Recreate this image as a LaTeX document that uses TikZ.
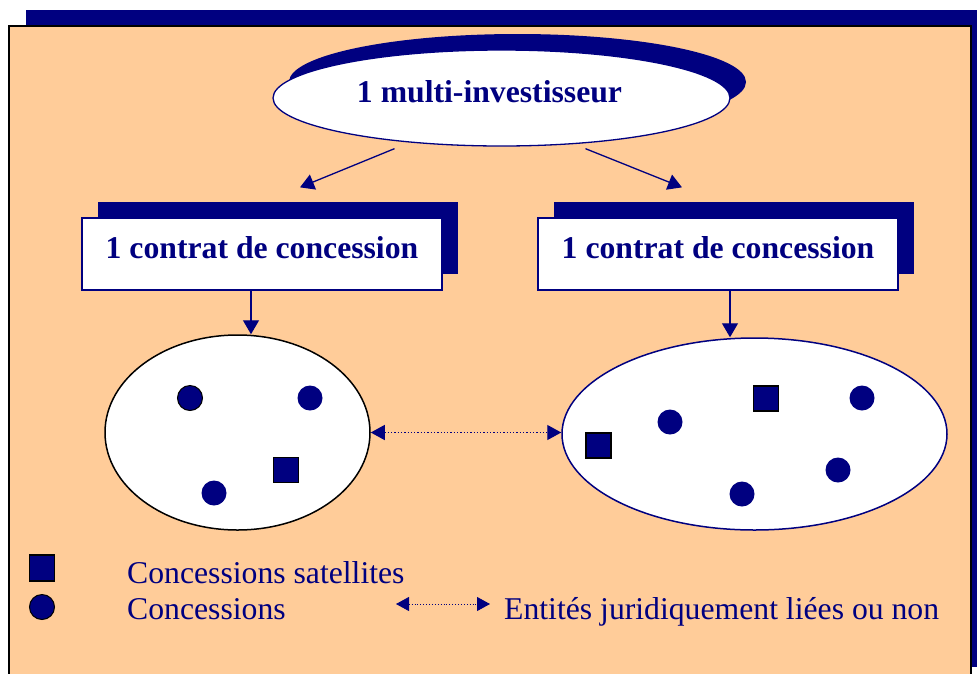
\documentclass[tikz,border=0pt]{standalone}
\usepackage{fontspec}
\setmainfont{Liberation Serif}
\usetikzlibrary{arrows.meta,positioning,shapes.geometric,shadows}
\definecolor{marine}{RGB}{0,0,128}
\definecolor{peche}{RGB}{255,204,153}
\tikzset{
  ombre/.style={drop shadow={shadow xshift=16pt,shadow yshift=16pt,fill=marine,opacity=1}},
  titre/.style={font=\bfseries\fontsize{31.7}{38}\selectfont,text=marine,text height=22pt,text depth=14pt},
  contrat/.style={rectangle,draw=marine,line width=1.3pt,fill=white,minimum width=360pt,minimum height=72pt,inner sep=0pt,ombre,titre},
  groupe/.style={ellipse,line width=1.5pt,fill=white,inner sep=0pt},
  conc/.style={circle,fill=marine,minimum size=25pt,inner sep=0pt},
  concb/.style={conc,draw=black,line width=1pt},
  sat/.style={rectangle,fill=marine,draw=black,line width=1.2pt,minimum size=25pt,inner sep=0pt},
  fleche/.style={-{Triangle[length=14pt,width=16pt]},line width=1.3pt,marine},
  lien/.style={{Triangle[length=14pt,width=15pt]}-{Triangle[length=14pt,width=15pt]},dotted,line width=1.3pt,marine},
  lienleg/.style={{Triangle[length=13pt,width=14pt]}-{Triangle[length=13pt,width=14pt]},dotted,line width=0.9pt,marine},
  legende/.style={font=\fontsize{31.7}{38}\selectfont,text=marine,inner sep=0pt,anchor=base west}
}
\begin{document}
\begin{tikzpicture}[x=1pt,y=-1pt]
  \useasboundingbox (0,0) rectangle (977,673);
  % cadre de fond et son ombre
  \fill[marine] (26,10) rectangle (977,667);
  \draw[line width=2pt,fill=peche] (9,26) rectangle (971,680);
  % investisseur
  \node[ellipse,draw=marine,line width=1.3pt,fill=white,minimum width=457pt,minimum height=96pt,inner sep=0pt,ombre,
        label={[titre,xshift=-12pt]center:1 multi-investisseur}] (inv) at (501.5,98) {};
  % contrats
  \node[contrat] (ctrg) at (262,254) {1 contrat de concession\hspace{4pt}};
  \node[contrat] (ctrd) at (718,254) {1 contrat de concession\hspace{4pt}};
  % ensembles de concessions
  \node[groupe,draw=black,minimum width=265pt,minimum height=195pt] (grpg) at (237.5,432.5) {};
  \node[groupe,draw=marine,minimum width=385pt,minimum height=192pt] (grpd) at (754.5,434) {};
  % fleches
  \draw[fleche] ([xshift=-107pt,yshift=-2pt]inv.south) -- ([xshift=38pt,yshift=30pt]ctrg.north);
  \draw[fleche] ([xshift=84pt,yshift=-2pt]inv.south) -- ([xshift=-36pt,yshift=30pt]ctrd.north);
  \draw[fleche] ([xshift=-11pt]ctrg.south) -- ([xshift=13.5pt]grpg.north);
  \draw[fleche] ([xshift=12pt]ctrd.south) -- ([xshift=-24.5pt]grpd.north);
  \draw[lien] (grpg.east) -- (grpg.east -| grpd.west);
  % concessions a gauche
  \node[concb] (cg1) at (190,398) {};
  \node[conc] (cg2) at (310,398) {};
  \node[sat] (sg1) at (286,470) {};
  \node[conc] (cg3) at (214,493) {};
  % concessions a droite
  \node[sat] (sd1) at (598.5,445.5) {};
  \node[conc] (cd1) at (670,422) {};
  \node[sat] (sd2) at (766,398.5) {};
  \node[conc] (cd2) at (862,398) {};
  \node[conc] (cd3) at (838,470) {};
  \node[conc] (cd4) at (742,494) {};
  % legende
  \node[sat,minimum height=26pt] (lsat) at (42,568) {};
  \node[concb] (lconc) at (42,607) {};
  \node[legende] (tsat) at (127,583) {Concessions satellites};
  \node[legende] (tconc) at (127,619) {Concessions};
  \node[legende] (tent) at (504,619) {Entités juridiquement liées ou non};
  \coordinate (lk) at (396,604);
  \draw[lienleg] (lk) -- ([xshift=-14pt]lk -| tent.west);
\end{tikzpicture}
\end{document}
